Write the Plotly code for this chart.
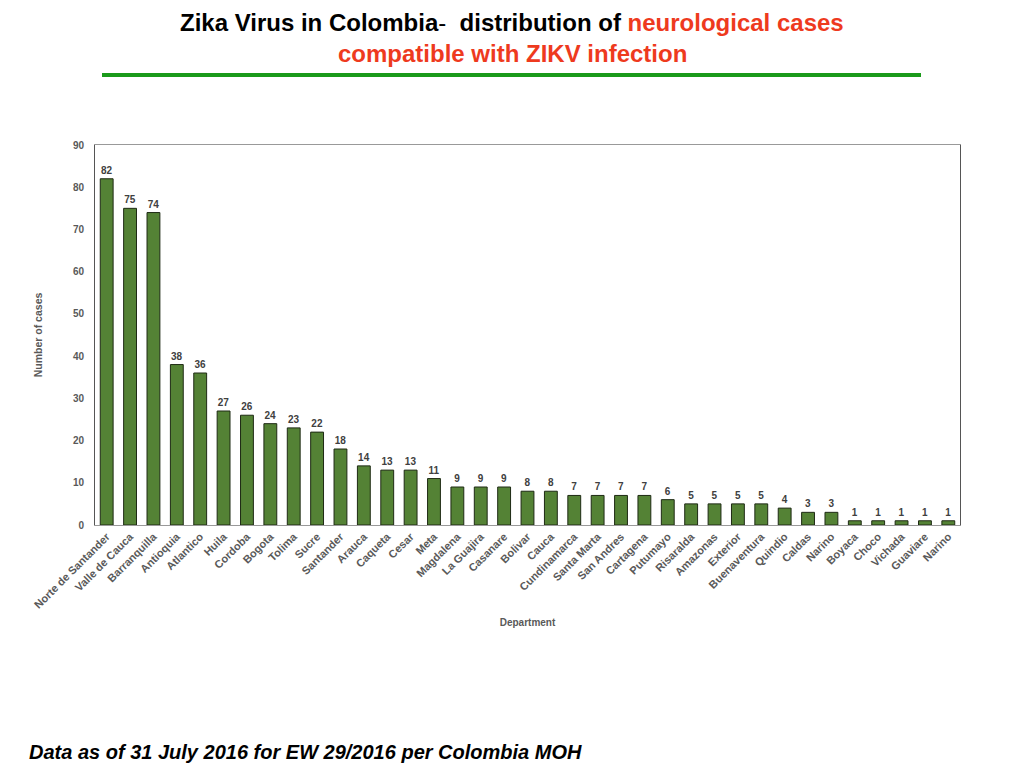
import plotly.graph_objects as go

departments = ["Norte de Santander", "Valle de Cauca", "Barranquilla", "Antioquia", "Atlantico",
               "Huila", "Cordoba", "Bogota", "Tolima", "Sucre", "Santander", "Arauca", "Caqueta",
               "Cesar", "Meta", "Magdalena", "La Guajira", "Casanare", "Bolivar", "Cauca",
               "Cundinamarca", "Santa Marta", "San Andres", "Cartagena", "Putumayo", "Risaralda",
               "Amazonas", "Exterior", "Buenaventura", "Quindio", "Caldas", "Narino", "Boyaca",
               "Choco", "Vichada", "Guaviare", "Narino"]
cases = [82, 75, 74, 38, 36, 27, 26, 24, 23, 22, 18, 14, 13, 13, 11, 9, 9, 9, 8, 8,
         7, 7, 7, 7, 6, 5, 5, 5, 5, 4, 3, 3, 1, 1, 1, 1, 1]
y_ticks = [0, 10, 20, 30, 40, 50, 60, 70, 80, 90]

idx = list(range(len(departments)))
grey = "#595959"
fnt = "Liberation Sans, Arial, sans-serif"

fig = go.Figure()
fig.add_trace(go.Bar(
    x=idx, y=cases,
    marker=dict(color="#548235", line=dict(color="#1e2a14", width=1)),
    text=["<b>%d</b>" % v for v in cases], textposition="outside", cliponaxis=False,
    textfont=dict(family=fnt, size=10, color="#404040"),
    width=0.55,
))

fig.update_layout(
    width=1024, height=768,
    paper_bgcolor="white", plot_bgcolor="white",
    margin=dict(l=87, r=72, t=137, b=251),
    showlegend=False,
    font=dict(family=fnt, color=grey),
    xaxis=dict(
        tickmode="array", tickvals=idx, ticktext=["<b>%s</b>" % d for d in departments],
        tickangle=-45,
        tickfont=dict(family=fnt, size=11, color=grey),
        range=[-0.5, len(departments) - 0.5],
        showline=True, linecolor="#999999", linewidth=1, mirror=True,
        ticks="", showgrid=False,
        title=dict(text="<b>Department</b>", font=dict(family=fnt, size=10, color=grey), standoff=9),
    ),
    yaxis=dict(
        range=[0, 90], tickmode="array", tickvals=y_ticks,
        ticktext=["<b>%d</b>" % t for t in y_ticks],
        tickfont=dict(family=fnt, size=10, color=grey), ticklabelstandoff=8,
        showline=True, linecolor="#555555", linewidth=1, mirror=True,
        ticks="", showgrid=False, zeroline=False,
        title=dict(text="<b>Number of cases</b>", font=dict(family=fnt, size=10.5, color=grey), standoff=28),
    ),
)

title_font = "Liberation Sans Narrow, Arial Narrow, Liberation Sans, sans-serif"
cx = (512 - 95) / 865
fig.add_annotation(
    xref="paper", yref="paper", x=cx, y=1, xanchor="center", yanchor="middle",
    yshift=123, showarrow=False,
    text="<b>Zika Virus in Colombia</b>\u2011\u00a0 <b>distribution of </b><b><span style='color:#ee3a1e'>neurological cases</span></b>",
    font=dict(family=title_font, size=24, color="black"),
)
fig.add_annotation(
    xref="paper", yref="paper", x=cx, y=1, xanchor="center", yanchor="middle",
    yshift=92, showarrow=False,
    text="<b>compatible with ZIKV infection</b>",
    font=dict(family=title_font, size=24, color="#ee3a1e"),
)
fig.add_shape(type="line", xref="paper", yref="paper",
              x0=(102 - 95) / 865, x1=(921 - 95) / 865,
              y0=(525 - 75) / 380, y1=(525 - 75) / 380,
              line=dict(color="#1a9a1a", width=4))
fig.add_annotation(
    xref="paper", yref="paper", x=(27 - 95) / 865, y=0, xanchor="left", yanchor="middle",
    yshift=-227, showarrow=False,
    text="<b><i>Data as of 31 July 2016 for EW 29/2016 per Colombia MOH</i></b>",
    font=dict(family=fnt, size=20, color="black"),
)

fig.write_html("out.html")
